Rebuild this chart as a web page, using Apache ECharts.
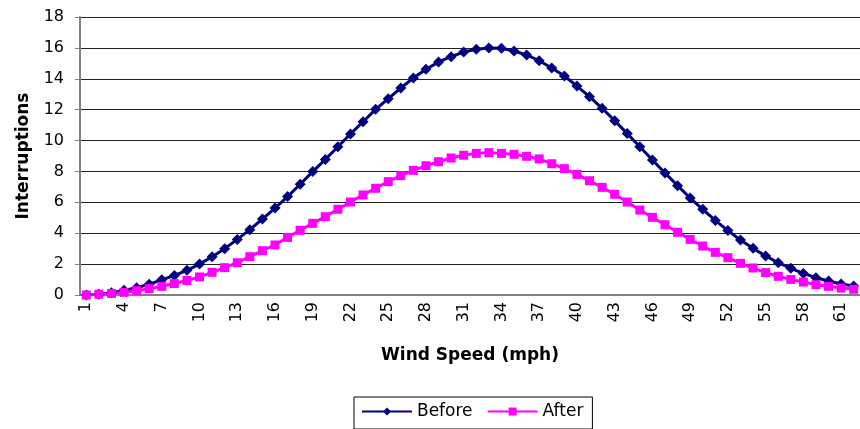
<html>
<head>
<meta charset="UTF-8"/>
<title>Interruptions vs Wind Speed</title>
<script type="text/javascript" src="https://cdn.jsdelivr.net/npm/echarts@6/dist/echarts.min.js"></script>
<style type="text/css">
	body { margin: 0; background: #fff; }
	#canvasDiv { width: 860px; height: 429px; }
</style>
</head>
<body>
<div id="canvasDiv"></div>
<script type="text/javascript">
	// wind speed categories (mph)
	var speeds = ["1","2","3","4","5","6","7","8","9","10","11","12","13","14","15","16","17","18","19","20",
		"21","22","23","24","25","26","27","28","29","30","31","32","33","34","35","36","37","38","39","40",
		"41","42","43","44","45","46","47","48","49","50","51","52","53","54","55","56","57","58","59","60",
		"61","62"];
	var before = [0, 0.05, 0.15, 0.3, 0.47, 0.7, 0.98, 1.27, 1.6, 2.0,
		2.48, 3.0, 3.6, 4.23, 4.92, 5.63, 6.37, 7.17, 7.99, 8.78,
		9.6, 10.43, 11.22, 12.02, 12.71, 13.4, 14.05, 14.61, 15.09, 15.43,
		15.73, 15.91, 16.0, 15.97, 15.8, 15.54, 15.17, 14.7, 14.18, 13.53,
		12.84, 12.09, 11.29, 10.45, 9.6, 8.74, 7.9, 7.08, 6.28, 5.55,
		4.83, 4.17, 3.56, 3.02, 2.53, 2.09, 1.73, 1.4, 1.12, 0.91,
		0.71, 0.58];
	var after = [0, 0.05, 0.1, 0.17, 0.28, 0.41, 0.56, 0.74, 0.94, 1.17,
		1.47, 1.77, 2.09, 2.48, 2.87, 3.24, 3.73, 4.19, 4.64, 5.07,
		5.55, 6.02, 6.48, 6.91, 7.34, 7.73, 8.07, 8.37, 8.63, 8.87,
		9.05, 9.17, 9.22, 9.17, 9.11, 8.98, 8.81, 8.5, 8.18, 7.81,
		7.4, 6.97, 6.52, 6.02, 5.5, 5.03, 4.55, 4.06, 3.6, 3.17,
		2.76, 2.42, 2.05, 1.75, 1.45, 1.21, 1.01, 0.84, 0.67, 0.56,
		0.45, 0.37];

	var font = "DejaVu Sans, Arial, sans-serif";
	var chart = echarts.init(document.getElementById("canvasDiv"));
	var option = {
		animation: false,
		textStyle: { fontFamily: font },
		grid: { left: 80, top: 17, width: 792, height: 278 },
		legend: {
			data: ["Before", "After"],
			left: 354,
			top: 397,
			padding: [6, 9, 9, 7],
			borderColor: "#000",
			borderWidth: 1,
			itemWidth: 50,
			itemHeight: 10,
			itemGap: 14,
			textStyle: { fontFamily: font, fontSize: 17, color: "#000" }
		},
		xAxis: {
			type: "category",
			data: speeds,
			boundaryGap: true,
			name: "Wind Speed (mph)",
			nameLocation: "middle",
			nameGap: 52,
			nameTextStyle: { fontFamily: font, fontSize: 17, fontWeight: "bold", color: "#000" },
			axisLine: { lineStyle: { color: "#808080", width: 2 } },
			axisTick: { interval: 0, length: 6, lineStyle: { color: "#808080" } },
			axisLabel: { interval: 2, rotate: 90, margin: 7, fontSize: 16, color: "#000", fontFamily: font }
		},
		yAxis: {
			type: "value",
			min: 0,
			max: 18,
			interval: 2,
			name: "Interruptions",
			nameLocation: "middle",
			nameGap: 48,
			nameTextStyle: { fontFamily: font, fontSize: 17, fontWeight: "bold", color: "#000" },
			axisLine: { show: true, lineStyle: { color: "#808080", width: 2 } },
			axisTick: { show: true, length: 5, lineStyle: { color: "#808080" } },
			axisLabel: { margin: 16, fontSize: 16, color: "#000", fontFamily: font },
			splitLine: { lineStyle: { color: "#222", width: 1 } }
		},
		series: [{
			type: "line",
			name: "Before",
			data: before,
			symbol: "diamond",
			symbolSize: 11,
			showAllSymbol: true,
			color: "#000080",
			lineStyle: { width: 3, color: "#000080" },
			itemStyle: { color: "#000080" }
		}, {
			type: "line",
			name: "After",
			data: after,
			symbol: "rect",
			symbolSize: 9,
			showAllSymbol: true,
			color: "#ff00ff",
			lineStyle: { width: 3, color: "#ff00ff" },
			itemStyle: { color: "#ff00ff" }
		}]
	};
	chart.setOption(option);
</script>
</body>
</html>
